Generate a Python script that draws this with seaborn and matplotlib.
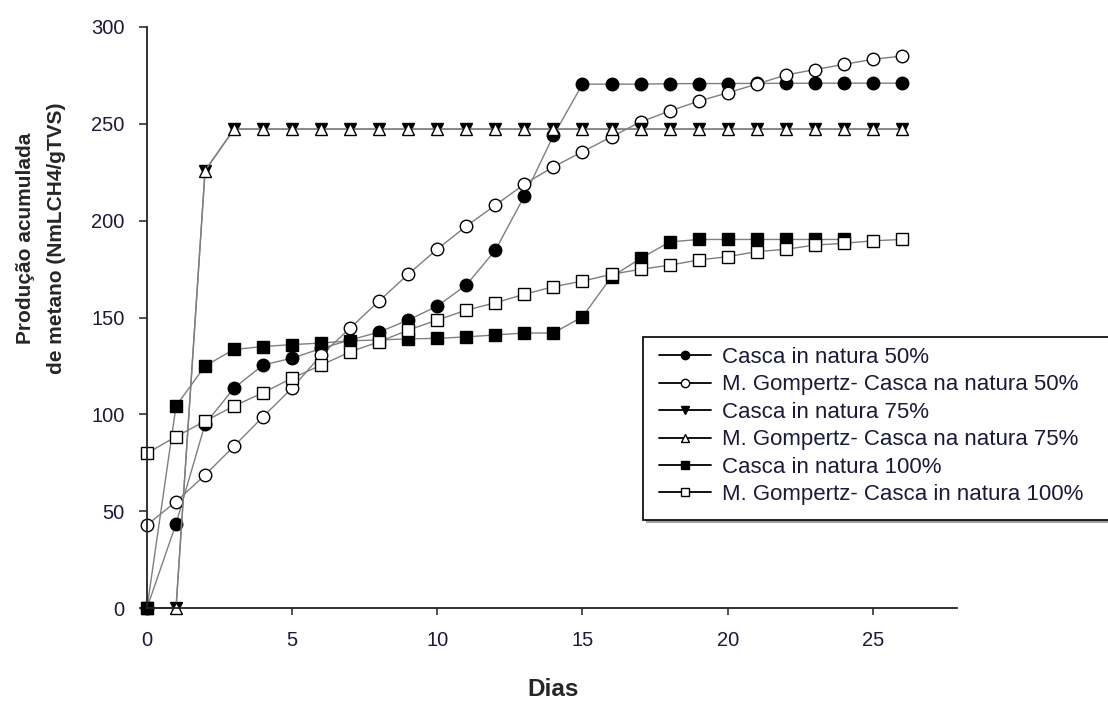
import numpy as np
import pandas as pd
import matplotlib
matplotlib.use("Agg")
import matplotlib.pyplot as plt
from matplotlib.lines import Line2D
from matplotlib.patches import Rectangle
import seaborn as sns

# ---- data ----
days = list(range(27))
casca50 = [0, 43.5, 95, 113.6, 125.5, 129, 134, 138.4, 142.5, 148.7, 155.9, 166.8, 184.8,
           212.7, 244, 270.5, 270.5, 270.5, 270.7, 270.8, 270.8, 270.9, 270.9, 271, 271, 271, 271]
gomp50 = [42.9, 54.9, 68.7, 83.6, 98.8, 113.6, 130.6, 144.6, 158.6, 172.4, 185.3, 197.2, 208,
          218.9, 227.8, 235.6, 243.3, 251, 256.6, 261.7, 266, 270.5, 275.2, 278, 280.7, 283.3, 285]
casca75 = [0, 0, 225.8] + [247.3] * 24
gomp75 = [0, 0, 225.8] + [247.3] * 24
casca100 = [0, 104.3, 125, 133.5, 135, 136, 136.8, 138, 138.4, 139, 139.2, 140, 141, 142, 142,
            150.4, 171, 180.5, 189, 190.3, 190.3, 190.3, 190.3, 190.3, 190.3, np.nan, np.nan]
gomp100 = [79.9, 88.5, 96.5, 104.3, 111.2, 118.7, 125.4, 132.3, 137.5, 143.5, 148.7, 153.8, 157.6,
           162, 165.9, 168.8, 172.3, 174.9, 177, 179.7, 181.4, 184, 185.2, 187.4, 188.3, 189.6, 190.3]

labels = ["Casca in natura 50%", "M. Gompertz- Casca na natura 50%",
          "Casca in natura 75%", "M. Gompertz- Casca na natura 75%",
          "Casca in natura 100%", "M. Gompertz- Casca in natura 100%"]
series = [casca50, gomp50, casca75, gomp75, casca100, gomp100]
markers = ["o", "o", "v", "^", "s", "s"]
faces = ["black", "white", "black", "white", "black", "white"]

sns.set_style("ticks")
plt.rcParams['font.family'] = ['Liberation Sans', 'DejaVu Sans']

W, H = 1108, 702
fig = plt.figure(figsize=(W / 100, H / 100), dpi=100)
ax = fig.add_axes([147 / W, (H - 608) / H, (957 - 147) / W, (608 - 27) / H])

for lab, ys, mk, fc in zip(labels, series, markers, faces):
    df = pd.DataFrame({"x": days, "y": ys}).dropna()
    sns.lineplot(data=df, x="x", y="y", ax=ax, estimator=None, sort=False,
                 color="#7f7f7f", linewidth=1.0, marker=mk, markersize=9,
                 markerfacecolor=fc, markeredgecolor="black", markeredgewidth=1.0,
                 clip_on=False, label=lab, legend=False)

ax.set_xlim(0, 27.9)
ax.set_ylim(0, 300)
ax.set_xticks([0, 5, 10, 15, 20, 25])
ax.set_yticks([0, 50, 100, 150, 200, 250, 300])
ax.set_xlabel("")
ax.set_ylabel("")
for s in ["top", "right"]:
    ax.spines[s].set_visible(False)
for s in ["left", "bottom"]:
    ax.spines[s].set_linewidth(1.3)
    ax.spines[s].set_color("#222222")
tick_col = "#1a1a3a"
ax.tick_params(axis="x", length=5, width=1.1, pad=11.5, labelsize=14.5, labelcolor=tick_col, color="#222222")
ax.tick_params(axis="y", length=6, width=1.1, pad=10, labelsize=14.5, labelcolor=tick_col, color="#222222")

fig.text(41 / W, 1 - 238 / H, "Produção acumulada\nde metano (NmLCH4/gTVS)", rotation=90,
         ha="center", va="center", fontsize=15, fontweight="bold", linespacing=1.85,
         multialignment="center")
fig.text(553 / W, 1 - 690 / H, "Dias", ha="center", va="center", fontsize=17.5, fontweight="bold")

# legend frame with shadow
shadow = Rectangle((646 / W, 1 - 523 / H), (1130 - 646) / W, (523 - 340) / H,
                   transform=fig.transFigure, facecolor="#a0a0a0", edgecolor="none", zorder=5)
frame = Rectangle((643 / W, 1 - 520 / H), (1130 - 643) / W, (520 - 337) / H,
                  transform=fig.transFigure, facecolor="white", edgecolor="black", linewidth=1.2, zorder=6)
fig.add_artist(shadow)
fig.add_artist(frame)

handles = [Line2D([], [], color="black", linewidth=1.3, marker=mk, markersize=6,
                  markerfacecolor=fc, markeredgecolor="black", markeredgewidth=1.0)
           for mk, fc in zip(markers, faces)]
leg = fig.legend(handles, labels, loc="upper left", bbox_to_anchor=(659 / W, 1 - 347 / H),
                 frameon=False, fontsize=16, borderpad=0, borderaxespad=0, labelspacing=0.29,
                 handlelength=2.35, handletextpad=0.5, labelcolor=tick_col)
leg.set_zorder(7)

fig.savefig("out.png", dpi=100)
